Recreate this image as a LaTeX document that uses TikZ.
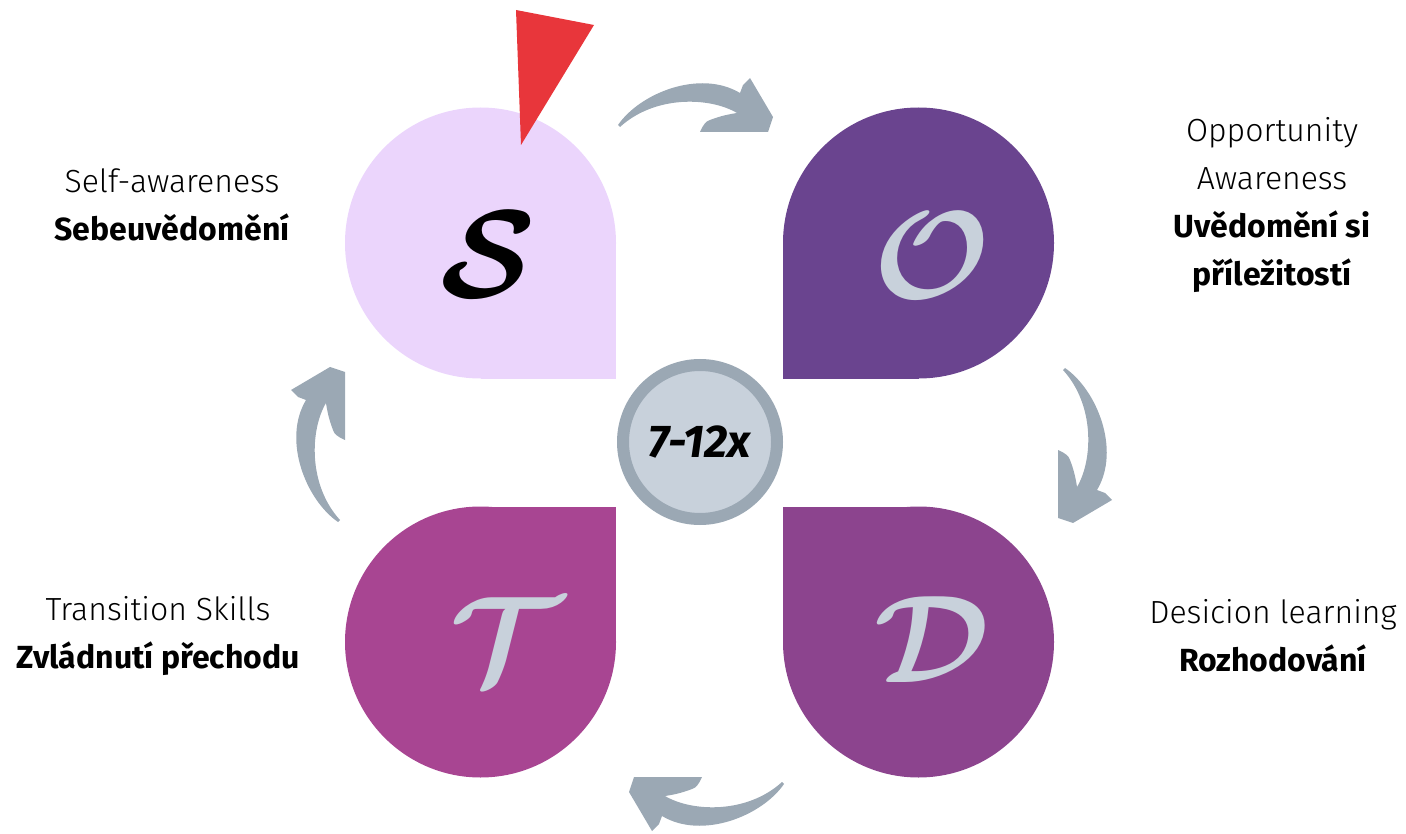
\documentclass[tikz,border=0pt]{standalone}
\usepackage{amsmath}
\usepackage{graphicx}
\usepackage{fontspec}
\setmainfont{Fira Sans}
\newfontfamily\lightfont{Fira Sans Light}
\usepackage{tikz}
\usepackage{xcolor}
\usetikzlibrary{positioning}

\definecolor{petalS}{HTML}{EBD5FC}
\definecolor{petalO}{HTML}{6A448F}
\definecolor{petalD}{HTML}{8C448E}
\definecolor{petalT}{HTML}{A84592}
\definecolor{ringgray}{HTML}{9BA8B4}
\definecolor{hubfill}{HTML}{C8D1DB}
\definecolor{flagred}{HTML}{E8363B}

\newcommand{\bigletter}[1]{\scalebox{12.5}{$\boldsymbol{\mathcal{#1}}$}}

\tikzset{
    bentarrow/.pic={
        \fill[ringgray] (-77,20) .. controls (-55,-12) and (5,-36) .. (45,-12)
            -- (48,-20) -- (55,-27) -- (78,12) -- (73,27) -- (5,27)
            .. controls (8,20) and (11,16) .. (15,15)
            .. controls (25,11) and (35,9) .. (42,8)
            .. controls (15,-8) and (-40,-10) .. (-75,22) -- cycle;
    }
}

\begin{document}
\begin{tikzpicture}[
    x=1pt, y=-1pt,
    lbl/.style={align=center, font=\fontsize{32}{48}\selectfont},
    letter/.style={inner sep=0pt},
    hubstyle/.style={circle, draw=ringgray, fill=hubfill, line width=12pt, minimum size=154pt, inner sep=0pt}
]
\useasboundingbox (0,0) rectangle (1406,834);

% Petals
\fill[petalS] (480.5,243) circle (135.5);
\fill[petalS] (480.5,243) rectangle (616,378.5);
\fill[petalO] (918.5,243) circle (135.5);
\fill[petalO] (783,243) rectangle (918.5,378.5);
\fill[petalT] (480.5,642) circle (135.5);
\fill[petalT] (480.5,506.5) rectangle (616,642);
\fill[petalD] (918.5,642) circle (135.5);
\fill[petalD] (783,506.5) rectangle (918.5,642);

% Red flag
\fill[flagred] (516,10) -- (594,25) -- (521,145) -- cycle;

% Letters
\node[letter, text=black] (letS) at (488,255) {\bigletter{S}};
\node[letter, text=hubfill] (letO) at (932,256) {\bigletter{O}};
\node[letter, text=hubfill] (letT) at (506,641) {\bigletter{T}};
\node[letter, text=hubfill] (letD) at (932,640) {\bigletter{D}};

% Hub
\node[hubstyle] (hub) at (700,442) {\fontsize{46}{46}\selectfont\bfseries\itshape 7-12x};

% Cycle arrows
\pic at (695,105) {bentarrow};
\pic[rotate=-90] at (1085,445) {bentarrow};
\pic[rotate=180] at (707,804) {bentarrow};
\pic[rotate=90] at (318,445) {bentarrow};

% Labels
\node[lbl] (lblS) at (172,205) {{\lightfont Self-awareness}\\ \textbf{Sebeuvědomění}};
\node[lbl] (lblO) at (1272,205) {{\lightfont Opportunity}\\ {\lightfont Awareness}\\ \textbf{Uvědomění si}\\ \textbf{příležitostí}};
\node[lbl] (lblT) at (158,636) {{\lightfont Transition Skills}\\ \textbf{Zvládnutí přechodu}};
\node[lbl] (lblD) at (1273,636) {{\lightfont Desicion learning}\\ \textbf{Rozhodování}};

\end{tikzpicture}
\end{document}
